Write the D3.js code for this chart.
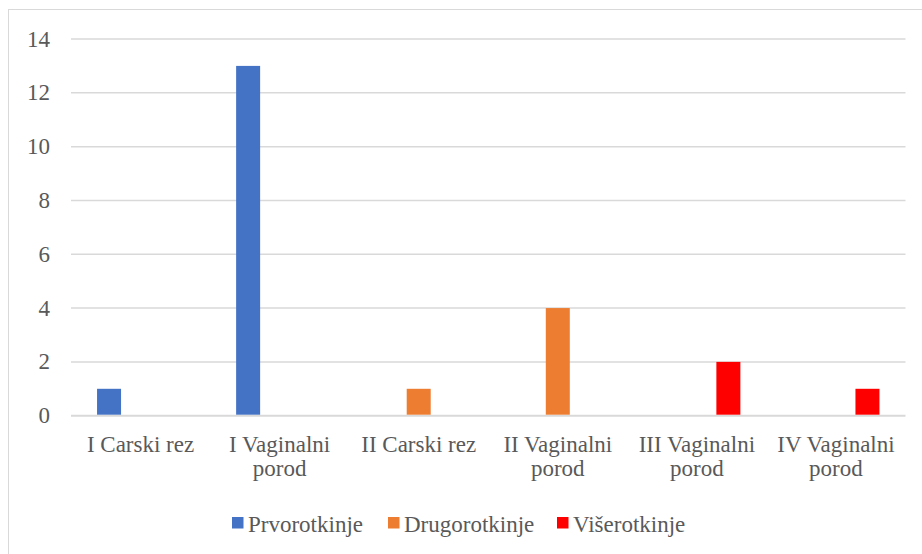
<!DOCTYPE html>
<html>
<head>
<meta charset="utf-8">
<script src="https://cdn.jsdelivr.net/npm/d3@7"></script>
<style>
  html, body { margin: 0; padding: 0; background: #fff; }
  svg { display: block; }
</style>
</head>
<body>
<div class="chart-wrap"></div>
<script>
// podaci
const categories = [
  ["I Carski rez"],
  ["I Vaginalni", "porod"],
  ["II Carski rez"],
  ["II Vaginalni", "porod"],
  ["III Vaginalni", "porod"],
  ["IV Vaginalni", "porod"]
];
const seriesNames = ["Prvorotkinje", "Drugorotkinje", "Višerotkinje"];
const prvorotkinje = [1, 13, 0, 0, 0, 0];
const drugorotkinje = [0, 0, 1, 4, 0, 0];
const viserotkinje = [0, 0, 0, 0, 2, 1];
const yTicks = [0, 2, 4, 6, 8, 10, 12, 14];
const colors = ["#4472c4", "#ed7d31", "#ff0000"];

const seriesValues = [prvorotkinje, drugorotkinje, viserotkinje];
const catKeys = categories.map(c => c.join(" "));

const width = 922, height = 554;
const svg = d3
  .select(".chart-wrap")
  .append("svg")
  .attr("width", width)
  .attr("height", height);

// okvir
svg.append("rect")
  .attr("x", 8.5).attr("y", 9.5)
  .attr("width", 930).attr("height", 560)
  .attr("fill", "none")
  .attr("stroke", "#d9d9d9");

const plotLeft = 71, plotRight = 905.5, plotTop = 39, plotBottom = 415.7;

const x0 = d3.scaleBand().domain(catKeys).range([plotLeft, plotRight]);
const x1 = d3.scaleBand()
  .domain(seriesNames)
  .range([0, x0.bandwidth()])
  .paddingInner(0.238)
  .paddingOuter(0.827);
const y = d3.scaleLinear().domain([0, 14]).range([plotBottom, plotTop]);

const font = "'Liberation Serif', 'Times New Roman', serif";
const textColor = "#595959";
const fontSize = "23px";

// mreža
svg.append("g")
  .selectAll("line")
  .data(yTicks)
  .enter()
  .append("line")
  .attr("x1", plotLeft)
  .attr("x2", plotRight)
  .attr("y1", d => y(d))
  .attr("y2", d => y(d))
  .attr("stroke", "#d9d9d9")
  .attr("stroke-width", d => (d === 0 ? 2 : 1.5));

// oznake y ose
svg.append("g")
  .selectAll("text")
  .data(yTicks)
  .enter()
  .append("text")
  .attr("x", 50)
  .attr("y", d => y(d))
  .attr("dy", "0.33em")
  .attr("text-anchor", "end")
  .attr("font-family", font)
  .attr("font-size", fontSize)
  .attr("fill", textColor)
  .text(d => d);

// stupci
seriesNames.forEach((name, s) => {
  svg.append("g")
    .attr("fill", colors[s])
    .selectAll("rect")
    .data(seriesValues[s].map((v, i) => ({ v, cat: catKeys[i] })).filter(d => d.v > 0))
    .enter()
    .append("rect")
    .attr("x", d => x0(d.cat) + x1(name))
    .attr("y", d => y(d.v))
    .attr("width", x1.bandwidth())
    .attr("height", d => plotBottom - 1 - y(d.v));
});

// oznake kategorija
const catG = svg.append("g")
  .selectAll("text")
  .data(categories)
  .enter()
  .append("text")
  .attr("text-anchor", "middle")
  .attr("font-family", font)
  .attr("font-size", fontSize)
  .attr("fill", textColor);
catG.selectAll("tspan")
  .data((d, i) => d.map(line => ({ line, i })))
  .enter()
  .append("tspan")
  .attr("x", d => x0(catKeys[d.i]) + x0.bandwidth() / 2)
  .attr("y", (d, j) => 452 + j * 24)
  .text(d => d.line);

// legenda
const legendX = [232, 388, 557];
const legend = svg.append("g")
  .selectAll("g")
  .data(seriesNames)
  .enter()
  .append("g")
  .attr("transform", (d, i) => `translate(${legendX[i]},517)`);
legend.append("rect")
  .attr("width", 11.5)
  .attr("height", 11.5)
  .attr("fill", (d, i) => colors[i]);
legend.append("text")
  .attr("x", 16)
  .attr("y", 14.5)
  .attr("font-family", font)
  .attr("font-size", fontSize)
  .attr("fill", textColor)
  .text(d => d);
</script>
</body>
</html>
